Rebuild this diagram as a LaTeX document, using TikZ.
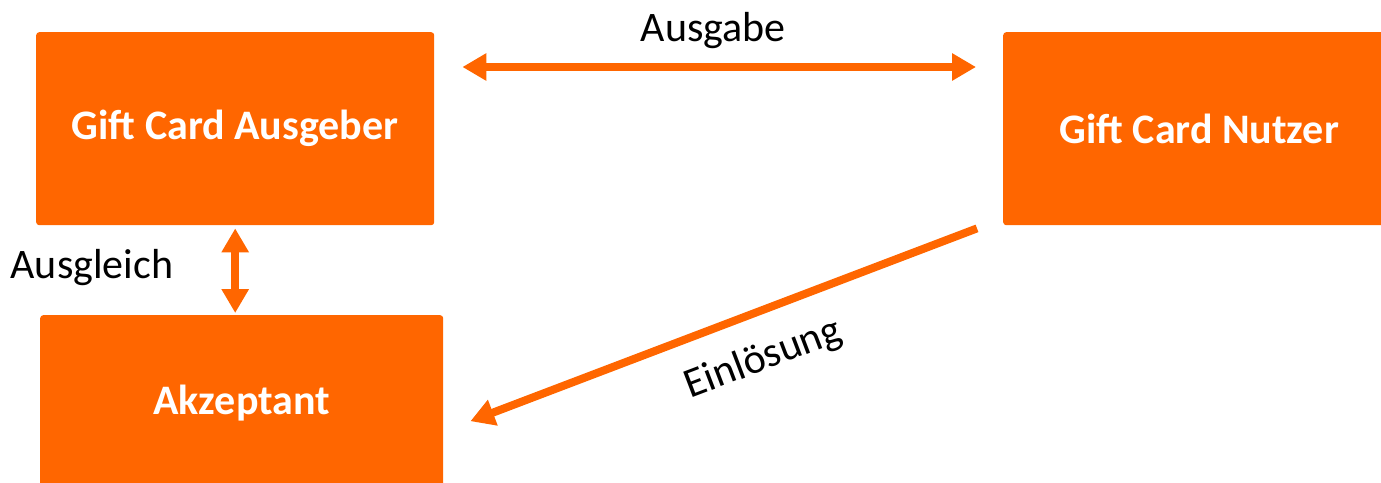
\documentclass[tikz,border=0pt]{standalone}
\usepackage{fontspec}
\setmainfont{Carlito}
\usetikzlibrary{arrows.meta,calc}
\definecolor{org}{HTML}{FF6600}
\begin{document}
\begin{tikzpicture}[x=1pt,y=-1pt,
  box/.style={fill=org, rounded corners=3pt, text=white, font=\fontsize{42}{50}\selectfont\bfseries, inner sep=0pt, anchor=north west},
  lbl/.style={font=\fontsize{42}{50}\selectfont, text=black, inner sep=0pt},
  conn/.style={draw=org, line width=8pt},
  dbl/.style={conn, {Triangle[length=24pt,width=26pt]}-{Triangle[length=24pt,width=26pt]}},
  sgl/.style={conn, -{Triangle[length=24pt,width=26pt]}}]
\useasboundingbox (0,0) rectangle (1381,482);
\clip (0,0) rectangle (1381,482);
\node[box, minimum width=398pt, minimum height=193pt] (ausgeber) at (36,32) {Gift Card Ausgeber};
\node[box, minimum width=392pt, minimum height=193pt] (nutzer) at (1003,32) {Gift Card Nutzer};
\node[box, minimum width=403pt, minimum height=176pt] (akz) at (40,315) {Akzeptant};
\draw[dbl] ($(ausgeber.north east)+(28,35)$) -- node[lbl, above=14pt, xshift=-6pt] {Ausgabe} ($(nutzer.north west)+(-27,35)$);
\draw[dbl] ($(ausgeber.south)+(0,3)$) -- node[lbl, left=58pt, yshift=3pt] {Ausgleich} ($(ausgeber.south |- akz.north)+(0,-2)$);
\draw[sgl] ($(nutzer.south west)+(-26,3)$) -- node[lbl, sloped, pos=0.454, below=24pt] {Einlösung} ($(akz.east)+(27,18)$);
\end{tikzpicture}
\end{document}
